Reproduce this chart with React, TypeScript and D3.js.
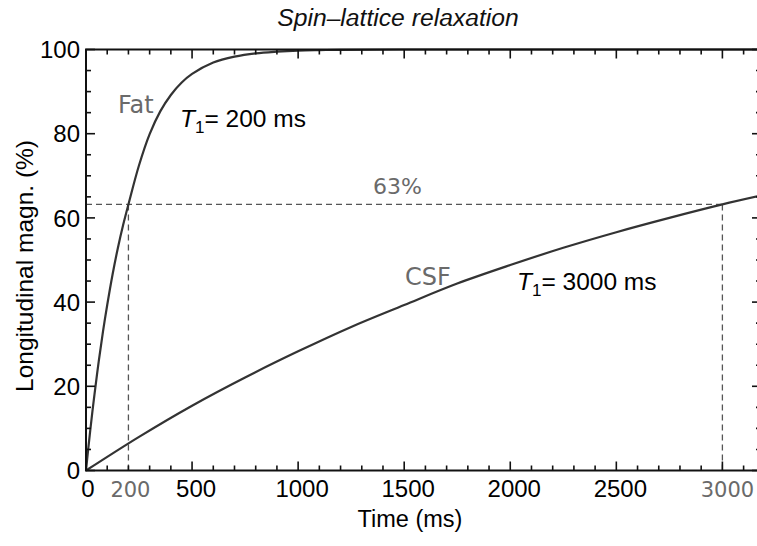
import React from "react";
import * as d3 from "d3";

const title = "Spin–lattice relaxation";
const xLabel = "Time (ms)";
const yLabel = "Longitudinal magn. (%)";

const xTickLabels = [0, 500, 1000, 1500, 2000, 2500];
const yTickLabels = [0, 20, 40, 60, 80, 100];
const xMarkers = [200, 3000];
const level63 = 63.2;

const fatTime = [0, 10, 20, 30, 40, 60, 80, 100, 125, 150, 175, 200, 250, 300, 350, 400, 450, 500, 600, 700, 800, 900, 1000, 1100, 1200, 1500, 2000, 2500, 3000, 3182];
const fatValue = [0, 4.9, 9.5, 13.9, 18.1, 25.9, 33.0, 39.3, 46.5, 52.8, 58.3, 63.2, 72.5, 79.9, 85.3, 89.2, 92.1, 94.2, 96.9, 98.3, 99.1, 99.5, 99.75, 99.86, 99.93, 100, 100, 100, 100, 100];

const csfTime = [0, 250, 500, 750, 1000, 1250, 1500, 1750, 2000, 2250, 2500, 2750, 3000, 3182];
const csfValue = [0, 8.0, 15.4, 22.1, 28.3, 34.1, 39.3, 44.4, 48.8, 52.9, 56.6, 60.0, 63.2, 65.3];

const W = 757;
const H = 546;
const left = 86;
const right = 761;
const top = 49.5;
const bottom = 470.5;

export default function App() {
  const x = d3.scaleLinear().domain([0, 3182]).range([left, right]);
  const y = d3.scaleLinear().domain([0, 100]).range([bottom, top]);

  const line = d3
    .line<[number, number]>()
    .x((d) => x(d[0]))
    .y((d) => y(d[1]))
    .curve(d3.curveCatmullRom.alpha(0.5));

  const fatPts: [number, number][] = fatTime.map((t, i) => [t, fatValue[i]]);
  const csfPts: [number, number][] = csfTime.map((t, i) => [t, csfValue[i]]);

  const minorX = d3.range(0, 3200, 100);
  const minorY = d3.range(0, 101, 5);

  const sans = "'Liberation Sans', Arial, sans-serif";
  const soft = "'DejaVu Sans', 'Noto Sans', sans-serif";
  const gray = "#6a6a6a";
  const ink = "#333";

  return (
    <svg
      width={W}
      height={H}
      style={{ position: "absolute", left: 0, top: 0, background: "#fff" }}
    >
      <rect x={0} y={0} width={W} height={H} fill="#fff" />
      {/* title */}
      <text x={398} y={26} textAnchor="middle" fontFamily={sans} fontStyle="italic" fontSize={24.7} fill="#111">
        {title}
      </text>

      {/* dashed guides */}
      <g stroke="#555" strokeWidth={1.3} strokeDasharray="6,4" fill="none">
        <line x1={x(0)} x2={x(3000)} y1={y(level63)} y2={y(level63)} />
        {xMarkers.map((m) => (
          <line key={m} x1={x(m)} x2={x(m)} y1={y(0)} y2={y(level63)} />
        ))}
      </g>

      {/* curves */}
      <path d={line(csfPts) || ""} fill="none" stroke={ink} strokeWidth={2.2} />
      <path d={line(fatPts) || ""} fill="none" stroke={ink} strokeWidth={2.2} />

      {/* frame */}
      <rect x={left} y={top} width={right - left} height={bottom - top} fill="none" stroke="#111" strokeWidth={2} />

      {/* ticks */}
      <g stroke="#111" strokeWidth={1.6}>
        {minorX.map((t) => {
          const major = t % 500 === 0;
          const len = major ? 9 : 5;
          return (
            <g key={t}>
              <line x1={x(t)} x2={x(t)} y1={bottom} y2={bottom - len} />
              <line x1={x(t)} x2={x(t)} y1={top} y2={top + len} />
            </g>
          );
        })}
        {minorY.map((v) => {
          const major = v % 20 === 0;
          const len = major ? 9 : 5;
          return (
            <g key={v}>
              <line x1={left} x2={left + len} y1={y(v)} y2={y(v)} />
              <line x1={right} x2={right - len} y1={y(v)} y2={y(v)} />
            </g>
          );
        })}
      </g>

      {/* x tick labels */}
      {xTickLabels.map((t) => (
        <text key={t} x={x(t) + (t === 0 ? 2 : 4)} y={497} textAnchor="middle" fontFamily={sans} fontSize={24} fill="#000">
          {t}
        </text>
      ))}
      {xMarkers.map((m) => (
        <text key={m} x={x(m) + (m === 3000 ? 5 : 2)} y={497} textAnchor="middle" fontFamily={soft} fontSize={21} fill={gray}>
          {m}
        </text>
      ))}

      {/* y tick labels */}
      {yTickLabels.map((v) => (
        <text key={v} x={80} y={y(v)} dy="0.36em" textAnchor="end" fontFamily={sans} fontSize={24} fill="#000">
          {v}
        </text>
      ))}

      {/* axis titles */}
      <text x={410} y={527} textAnchor="middle" fontFamily={sans} fontSize={23.5} fill="#000">
        {xLabel}
      </text>
      <text
        transform={`translate(33, 266) rotate(-90)`}
        textAnchor="middle"
        fontFamily={sans}
        fontSize={24.5}
        fill="#000"
      >
        {yLabel}
      </text>

      {/* annotations */}
      <text x={118} y={113} fontFamily={soft} fontSize={24} fill={gray}>Fat</text>
      <text x={405} y={285} fontFamily={soft} fontSize={24} fill={gray}>CSF</text>
      <text x={373} y={194} fontFamily={soft} fontSize={22} fill={gray}>63%</text>

      <text x={180} y={127} fontFamily={sans} fontSize={24.5} fill="#000">
        <tspan fontStyle="italic">T</tspan>
        <tspan fontSize={17} dy={6}>1</tspan>
        <tspan dy={-6}>= 200 ms</tspan>
      </text>
      <text x={517} y={290} fontFamily={sans} fontSize={24.5} fill="#000">
        <tspan fontStyle="italic">T</tspan>
        <tspan fontSize={17} dy={6}>1</tspan>
        <tspan dy={-6}>= 3000 ms</tspan>
      </text>
    </svg>
  );
}
